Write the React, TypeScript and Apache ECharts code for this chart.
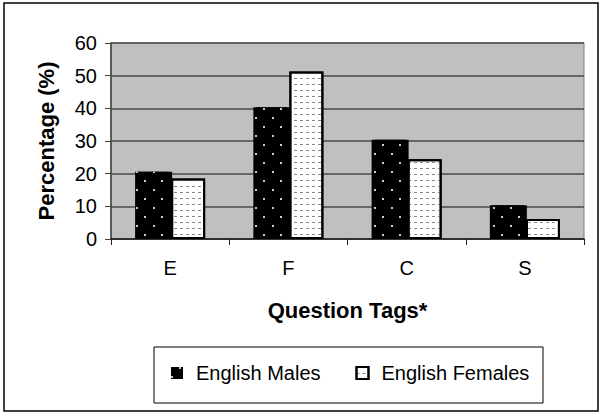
import React, { useEffect, useRef } from 'react';
import * as echarts from 'echarts';

const categories = ['E', 'F', 'C', 'S'];
const englishMales = [20.6, 40.3, 30.4, 10.3];
const englishFemales = [18.5, 51.3, 24.4, 6.1];
const seriesNames = ['English Males', 'English Females'];
const yAxisTitle = 'Percentage (%)';
const xAxisTitle = 'Question Tags*';

const FONT = 'Liberation Sans';

export default function App() {
  const ref = useRef<HTMLDivElement>(null);
  useEffect(() => {
    if (!ref.current) return;
    const chart = echarts.init(ref.current, undefined, { renderer: 'svg' });
    chart.setOption({
      animation: false,
      backgroundColor: '#ffffff',
      textStyle: { fontFamily: FONT },
      grid: {
        left: 111,
        right: 19,
        top: 43,
        bottom: 175,
        show: true,
        backgroundColor: '#c0c0c0',
        borderColor: '#808080',
        borderWidth: 1,
      },
      legend: {
        data: seriesNames,
        left: 171,
        top: 362,
        padding: 0,
        itemWidth: 12,
        itemHeight: 12,
        itemGap: 35,
        icon: 'rect',
        textStyle: {
          fontFamily: FONT,
          fontSize: 20,
          color: '#000',
          padding: [0, 0, 0, 8],
          lineHeight: 22,
        },
      },
      xAxis: {
        type: 'category',
        data: categories,
        boundaryGap: true,
        name: xAxisTitle,
        nameLocation: 'middle',
        nameGap: 60,
        nameTextStyle: { fontFamily: FONT, fontSize: 22, fontWeight: 'bold', color: '#000' },
        axisLine: { show: true, lineStyle: { color: '#202020', width: 1.5 } },
        axisTick: { show: true, length: 6, lineStyle: { color: '#202020', width: 1 } },
        axisLabel: { fontFamily: FONT, fontSize: 20, color: '#000', margin: 19 },
        splitLine: { show: false },
      },
      yAxis: {
        type: 'value',
        min: 0,
        max: 60,
        interval: 10,
        name: yAxisTitle,
        nameLocation: 'middle',
        nameGap: 54,
        nameTextStyle: { fontFamily: FONT, fontSize: 22, fontWeight: 'bold', color: '#000' },
        axisLine: { show: true, lineStyle: { color: '#404040', width: 1.5 } },
        axisTick: { show: true, length: 6, lineStyle: { color: '#404040', width: 1 } },
        axisLabel: { fontFamily: FONT, fontSize: 20, color: '#000', margin: 14 },
        splitLine: { show: true, lineStyle: { color: '#4a4a4a', width: 1.5 } },
      },
      series: [
        {
          name: seriesNames[0],
          type: 'bar',
          data: englishMales,
          barWidth: 34,
          barGap: '6%',
          itemStyle: {
            color: '#000000',
            borderColor: '#000000',
            borderWidth: 0,
            shadowColor: '#000000',
            shadowBlur: 0,
            shadowOffsetX: 3,
            shadowOffsetY: 0,
            decal: {
              symbol: 'rect',
              symbolSize: 1,
              symbolKeepAspect: false,
              color: 'rgba(255,255,255,0.8)',
              dashArrayX: [[1.5, 14.5], [0, 8, 1.5, 6.5]],
              dashArrayY: [1.5, 6.5],
            },
          },
        },
        {
          name: seriesNames[1],
          type: 'bar',
          data: englishFemales,
          barWidth: 34,
          itemStyle: {
            color: '#ffffff',
            borderColor: '#000000',
            borderWidth: 2,
            decal: {
              symbol: 'rect',
              symbolSize: 1,
              symbolKeepAspect: false,
              color: '#8a8a8a',
              dashArrayX: [2.5, 2.8],
              dashArrayY: [1, 4.3],
            },
          },
        },
      ],
      graphic: [
        {
          type: 'rect',
          shape: { x: 4, y: 3, width: 594, height: 408 },
          style: { fill: 'none', stroke: '#000', lineWidth: 1.5 },
          silent: true,
          z: 100,
        },
        {
          type: 'rect',
          shape: { x: 154, y: 347, width: 389, height: 56 },
          style: { fill: 'none', stroke: '#000', lineWidth: 1 },
          silent: true,
          z: 100,
        },
      ],
    });
    return () => chart.dispose();
  }, []);
  return (
    <div
      ref={ref}
      style={{ position: 'fixed', left: 0, top: 0, width: 603, height: 414 }}
    />
  );
}
